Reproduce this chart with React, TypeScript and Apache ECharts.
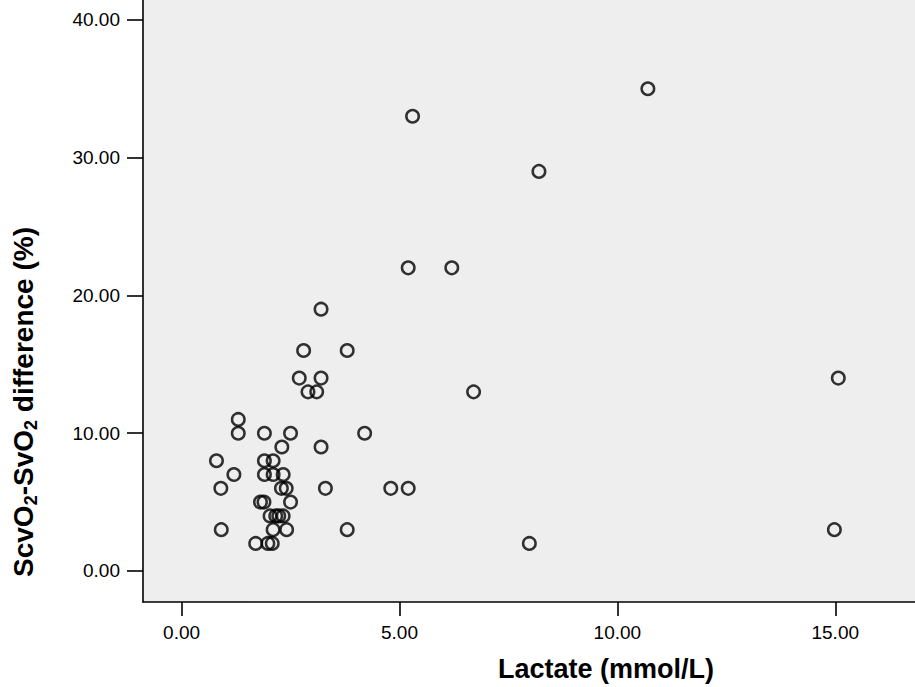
import React, { useEffect, useRef } from "react";
import * as echarts from "echarts";

const lactate = [
  1.3, 1.3, 1.9, 2.5, 2.3, 3.2, 0.8, 1.9, 2.1, 1.2, 1.9, 2.1, 2.33, 0.9, 2.29, 2.4, 3.3,
  1.81, 1.89, 2.5, 2.03, 2.16, 2.23, 2.33, 0.91, 2.1, 2.41, 1.7, 1.98, 2.08,
  3.2, 2.8, 3.8, 2.7, 3.2, 2.9, 3.1, 6.7, 4.2, 4.8, 5.2, 3.8, 5.3, 5.2, 6.2, 8.2, 10.7,
  15.07, 14.98, 7.98,
];
const difference = [
  11, 10, 10, 10, 9, 9, 8, 8, 8, 7, 7, 7, 7, 6, 6, 6, 6,
  5, 5, 5, 4, 4, 4, 4, 3, 3, 3, 2, 2, 2,
  19, 16, 16, 14, 14, 13, 13, 13, 10, 6, 6, 3, 33, 22, 22, 29, 35,
  14, 3, 2,
];
const xTicks = [0, 5, 10, 15];
const yTicks = [0, 10, 20, 30, 40];

export default function App() {
  const ref = useRef<HTMLDivElement>(null);
  useEffect(() => {
    if (!ref.current) return;
    const chart = echarts.init(ref.current, undefined, { renderer: "svg" });
    const points = lactate.map((x, i) => [x, difference[i]]);
    chart.setOption({
      animation: false,
      backgroundColor: "#ffffff",
      grid: {
        left: 143,
        right: 0,
        top: 0,
        bottom: 85,
        show: true,
        backgroundColor: "#eeeeee",
        borderWidth: 0,
      },
      xAxis: {
        type: "value",
        min: -0.886,
        max: 16.83,
        axisLine: { show: true, onZero: false, lineStyle: { color: "#000", width: 1.6 } },
        axisTick: { show: true, length: 14, customValues: xTicks, lineStyle: { color: "#000", width: 1.6 } },
        axisLabel: {
          customValues: xTicks,
          margin: 21,
          formatter: (v: number) => v.toFixed(2),
          color: "#000",
          fontSize: 19,
          fontFamily: "Liberation Sans, Arial, sans-serif",
        },
        splitLine: { show: false },
      },
      yAxis: {
        type: "value",
        min: -2.25,
        max: 41.44,
        axisLine: { show: true, onZero: false, lineStyle: { color: "#000", width: 1.6 } },
        axisTick: { show: true, length: 16, customValues: yTicks, lineStyle: { color: "#000", width: 1.6 } },
        axisLabel: {
          customValues: yTicks,
          margin: 23,
          formatter: (v: number) => v.toFixed(2),
          color: "#000",
          fontSize: 19,
          fontFamily: "Liberation Sans, Arial, sans-serif",
        },
        splitLine: { show: false },
      },
      graphic: [
        {
          type: "text",
          x: 606,
          y: 669,
          style: {
            text: "Lactate (mmol/L)",
            fill: "#000",
            font: "bold 27px 'Liberation Sans', Arial, sans-serif",
            align: "center",
            verticalAlign: "middle",
          },
        },
        {
          type: "text",
          x: 23,
          y: 402,
          rotation: Math.PI / 2,
          style: {
            text: "{m|ScvO}{s|2}{m|-SvO}{s|2}{m| difference (%)}",
            align: "center",
            verticalAlign: "middle",
            rich: {
              m: {
                fill: "#000",
                fontSize: 28,
                fontWeight: "bold",
                fontFamily: "Liberation Sans, Arial, sans-serif",
                lineHeight: 34,
                verticalAlign: "middle",
              },
              s: {
                fill: "#000",
                fontSize: 18,
                fontWeight: "bold",
                fontFamily: "Liberation Sans, Arial, sans-serif",
                lineHeight: 34,
                verticalAlign: "bottom",
              },
            },
          },
        },
      ],
      series: [
        {
          type: "scatter",
          data: points,
          symbol: "circle",
          symbolSize: 12.5,
          itemStyle: { color: "rgba(0,0,0,0)", borderColor: "#000", borderWidth: 2.5 },
        },
      ],
    });
    return () => chart.dispose();
  }, []);
  return (
    <div
      ref={ref}
      style={{ position: "absolute", left: 0, top: 0, width: 915, height: 687 }}
    />
  );
}
